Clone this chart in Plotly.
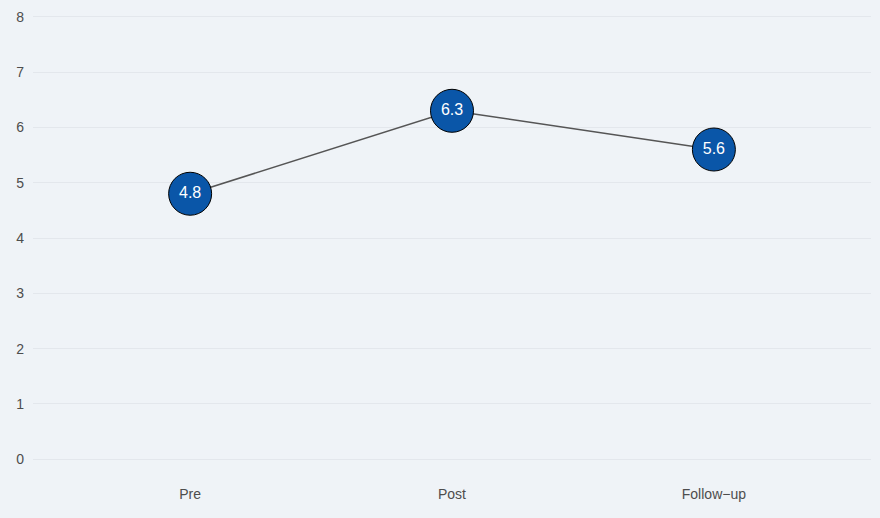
import plotly.graph_objects as go

# Mean scores at each assessment point
timepoints = ["Pre", "Post", "Follow\u2212up"]
scores = [4.8, 6.3, 5.6]
y_ticks = [0, 1, 2, 3, 4, 5, 6, 7, 8]

bg = "#eff3f7"
grid = "#e3e7ec"
text_col = "#4d4d4d"

fig = go.Figure()

fig.add_trace(go.Scatter(
    x=timepoints,
    y=scores,
    mode="lines",
    line=dict(color="#555555", width=1.5),
    hoverinfo="skip",
    showlegend=False,
))

fig.add_trace(go.Scatter(
    x=timepoints,
    y=scores,
    mode="markers+text",
    marker=dict(size=43, color="#0a56a8", line=dict(color="#000000", width=1)),
    text=[f"{v:.1f}" for v in scores],
    textposition="middle center",
    textfont=dict(color="white", size=16, family="Liberation Sans, Arial, sans-serif"),
    showlegend=False,
))

fig.update_layout(
    width=880,
    height=518,
    paper_bgcolor=bg,
    plot_bgcolor=bg,
    margin=dict(l=33, r=9, t=11, b=56),
    font=dict(family="Liberation Sans, Arial, sans-serif", color=text_col, size=14),
    xaxis=dict(
        type="category",
        range=[-0.6, 2.6],
        showgrid=False,
        zeroline=False,
        showline=False,
        ticks="",
        ticklabelstandoff=22,
        tickfont=dict(size=14, color=text_col),
    ),
    yaxis=dict(
        range=[-0.05, 8.05],
        tickvals=y_ticks,
        showgrid=True,
        gridcolor=grid,
        gridwidth=1,
        zeroline=False,
        showline=False,
        ticks="",
        ticklabelstandoff=8,
        tickfont=dict(size=14, color=text_col),
    ),
)

fig.write_html("out.html")
